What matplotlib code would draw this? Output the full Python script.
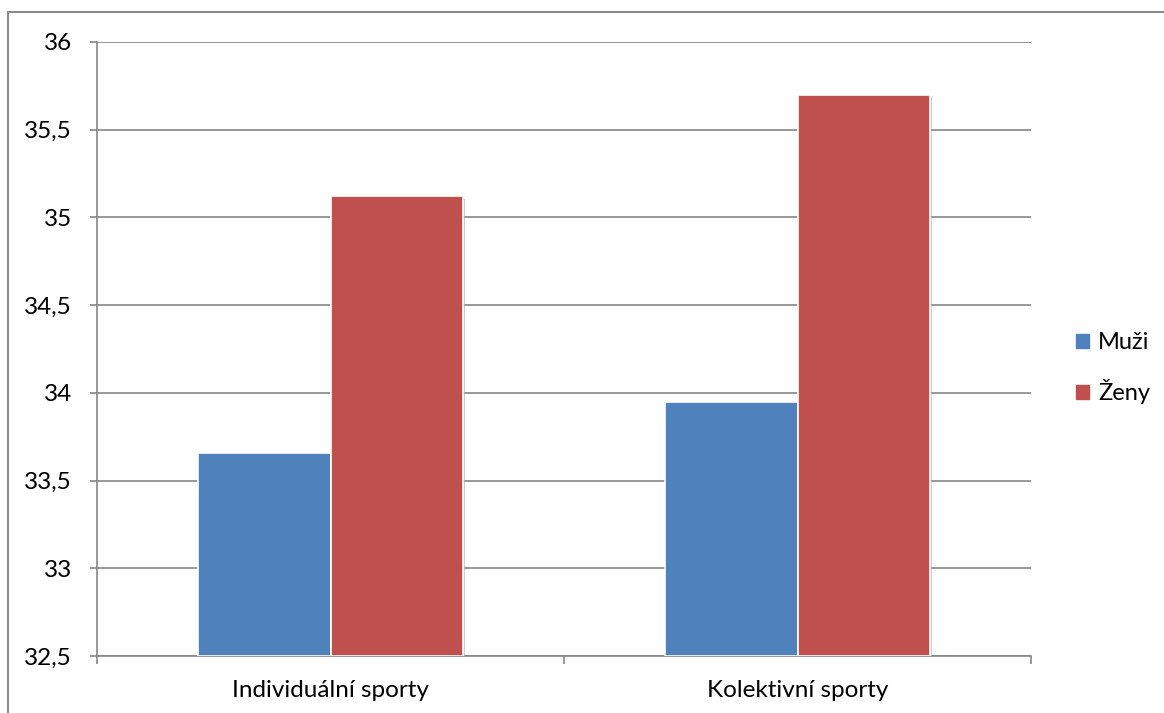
import matplotlib
matplotlib.use("Agg")
import matplotlib.pyplot as plt
import matplotlib.patheffects as pe
import numpy as np
from matplotlib.lines import Line2D

plt.rcParams['font.family'] = ['Lato', 'DejaVu Sans']

categories = ['Individuální sporty', 'Kolektivní sporty']
muzi = [33.66, 33.95]
zeny = [35.12, 35.70]
series_names = ['Muži', 'Ženy']
colors = ['#4F81BD', '#C0504D']
y_ticks = [32.5, 33, 33.5, 34, 34.5, 35, 35.5, 36]
y_labels = ['32,5', '33', '33,5', '34', '34,5', '35', '35,5', '36']

W, H = 1164, 713
fig = plt.figure(figsize=(W / 100, H / 100), dpi=100)
# outer chart frame: only its top and left edges are in the picture
fr = dict(transform=fig.transFigure, color='#8c8c8c', linewidth=1.5)
fig.lines.append(Line2D([8 / W, 1], [1 - 12 / H, 1 - 12 / H], **fr))
fig.lines.append(Line2D([8 / W, 8 / W], [0, 1 - 12 / H], **fr))

ax = fig.add_axes([97 / W, 1 - 656 / H, (1031 - 97) / W, (656 - 42) / H])

x = np.arange(len(categories))
w = 0.283
shadow = [pe.SimplePatchShadow(offset=(2, -2), shadow_rgbFace='#b0b0b0', alpha=0.6), pe.Normal()]
b1 = ax.bar(x - w / 2, np.array(muzi) - 32.5, w, bottom=32.5, color=colors[0],
            edgecolor='white', linewidth=1.2, label=series_names[0], zorder=3)
b2 = ax.bar(x + w / 2, np.array(zeny) - 32.5, w, bottom=32.5, color=colors[1],
            edgecolor='white', linewidth=1.2, label=series_names[1], zorder=3)
for b in list(b1) + list(b2):
    b.set_path_effects(shadow)

ax.set_xlim(-0.5, 1.5)
ax.set_ylim(32.5, 36)
ax.set_yticks(y_ticks)
ax.set_yticklabels(y_labels)
ax.yaxis.grid(True, color='#868686', linewidth=1.2, zorder=0)
ax.set_axisbelow(True)

ax.set_xticks(x)
ax.set_xticklabels(categories)
ax.set_xticks([-0.5, 0.5, 1.5], minor=True)
ax.tick_params(axis='x', which='major', length=0, pad=17, labelsize=17.5)
ax.tick_params(axis='x', which='minor', length=6, color='#868686', width=1.2)
ax.tick_params(axis='y', length=5, color='#868686', width=1.2, labelsize=17.5, pad=13)

for s in ['top', 'right']:
    ax.spines[s].set_visible(False)
for s in ['left', 'bottom']:
    ax.spines[s].set_color('#868686')
    ax.spines[s].set_linewidth(1.2)

handles = [plt.Rectangle((0, 0), 1, 1, color=c) for c in colors]
fig.legend(handles, series_names, loc='center left', bbox_to_anchor=(1064 / W, 1 - 368 / H),
           frameon=False, fontsize=17, handlelength=0.55, handleheight=0.55,
           handletextpad=0.4, labelspacing=1.1, borderpad=0)

fig.savefig('out.png', dpi=100)
